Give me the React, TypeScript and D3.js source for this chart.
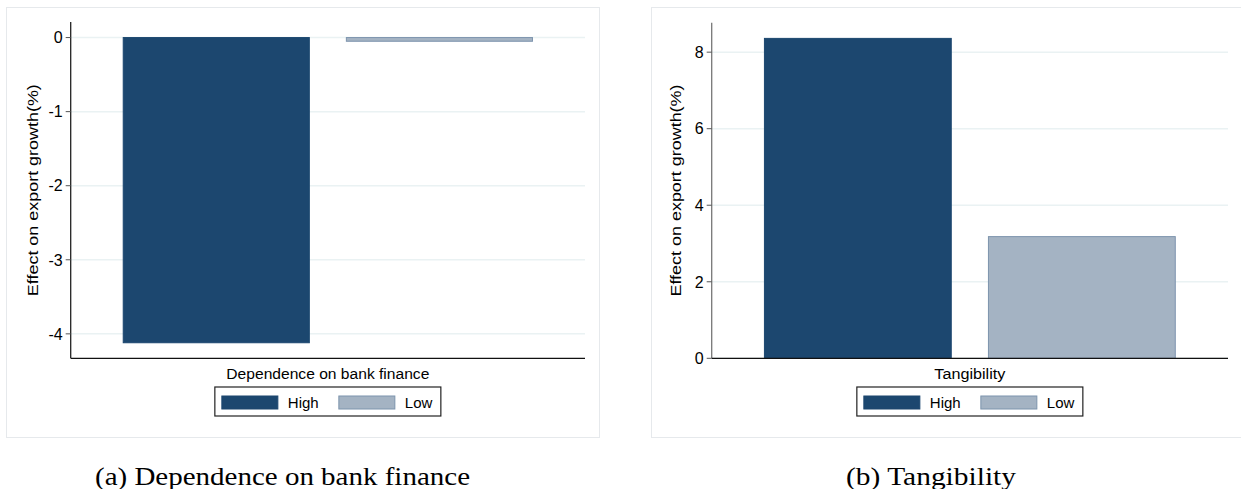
import React from "react";
import * as d3 from "d3";

const groups = ["High", "Low"];
const bankValues = [-4.12, -0.05];
const tangValues = [8.36, 3.18];
const bankTicks = [0, -1, -2, -3, -4];
const tangTicks = [0, 2, 4, 6, 8];
const captions = ["(a) Dependence on bank finance", "(b) Tangibility"];
const xTitles = ["Dependence on bank finance", "Tangibility"];
const yTitle = "Effect on export growth(%)";

const colors: Record<string, string> = { High: "#1c476f", Low: "#a4b3c3" };
const strokes: Record<string, string> = { High: "#1c476f", Low: "#7d94ad" };

type PanelProps = {
  frameX: number;
  plotLeft: number;
  plotRight: number;
  plotTop: number;
  plotBottom: number;
  domain: [number, number];
  values: number[];
  ticks: number[];
  xTitle: string;
  xTitleLen: number;
  yTitleX: number;
  yAxisColor: string;
};

function Panel(p: PanelProps) {
  const y = d3.scaleLinear().domain(p.domain).range([p.plotBottom, p.plotTop]);
  const x = d3
    .scaleBand<string>()
    .domain(groups)
    .range([p.plotLeft, p.plotRight])
    .paddingInner(0.166)
    .paddingOuter(0.2354);
  const font = "Arial, 'Liberation Sans', sans-serif";
  const cx = (p.plotLeft + p.plotRight) / 2;
  const legW = 226;
  const legX = cx - legW / 2;
  const legY = 387;
  return (
    <g>
      <rect x={p.frameX} y={7.5} width={593} height={430} fill="#fff" stroke="#e6e9ec" strokeWidth={1} />
      {p.ticks.map((t) => (
        <line key={"g" + t} x1={p.plotLeft} x2={p.plotRight} y1={y(t)} y2={y(t)} stroke="#eaf2f3" strokeWidth={1.5} />
      ))}
      {groups.map((g, i) => {
        const v = p.values[i];
        const y0 = y(0);
        const y1 = y(v);
        return (
          <rect
            key={g}
            x={x(g)!}
            width={x.bandwidth()}
            y={Math.min(y0, y1)}
            height={Math.abs(y1 - y0)}
            fill={colors[g]}
            stroke={strokes[g]}
            strokeWidth={1}
          />
        );
      })}
      <line x1={p.plotLeft} x2={p.plotLeft} y1={p.plotTop} y2={p.plotBottom} stroke={p.yAxisColor} strokeWidth={1.3} />
      <line x1={p.plotLeft} x2={p.plotRight} y1={p.plotBottom} y2={p.plotBottom} stroke="#111" strokeWidth={1.3} />
      {p.ticks.map((t) => (
        <g key={"t" + t}>
          <line x1={p.plotLeft - 5} x2={p.plotLeft} y1={y(t)} y2={y(t)} stroke="#555" strokeWidth={1} />
          <text x={p.plotLeft - 8} y={y(t)} dy="0.36em" textAnchor="end" fontFamily={font} fontSize={16} fill="#000">
            {t < 0 ? "-" + Math.abs(t) : String(t)}
          </text>
        </g>
      ))}
      <text
        transform={`translate(${p.yTitleX},${(p.plotTop + p.plotBottom) / 2}) rotate(-90)`}
        textAnchor="middle"
        dy="0.35em"
        fontFamily={font}
        fontSize={15.5}
        fill="#000"
        textLength={212}
        lengthAdjust="spacingAndGlyphs"
      >
        {yTitle}
      </text>
      <text
        x={cx}
        y={373}
        dy="0.36em"
        textAnchor="middle"
        fontFamily={font}
        fontSize={15.5}
        fill="#000"
        textLength={p.xTitleLen}
        lengthAdjust="spacingAndGlyphs"
      >
        {p.xTitle}
      </text>
      <rect x={legX} y={legY} width={legW} height={29} fill="#fff" stroke="#222" strokeWidth={1.2} />
      {groups.map((g, i) => {
        const sx = legX + 7 + i * 117;
        return (
          <g key={"l" + g}>
            <rect x={sx} y={legY + 9} width={56} height={13} fill={colors[g]} stroke={strokes[g]} strokeWidth={1} />
            <text x={sx + 66} y={legY + 16} dy="0.36em" fontFamily={font} fontSize={15} fill="#000">
              {g}
            </text>
          </g>
        );
      })}
    </g>
  );
}

export default function App() {
  const serif = "'Liberation Serif', 'DejaVu Serif', serif";
  return (
    <svg
      width={1241}
      height={489}
      style={{ position: "absolute", left: 0, top: 0, background: "#fff" }}
    >
      <rect width={1241} height={489} fill="#fff" />
      <Panel
        frameX={6.5}
        plotLeft={70.7}
        plotRight={585}
        plotTop={22}
        plotBottom={358.3}
        domain={[-4.33, 0.21]}
        values={bankValues}
        ticks={bankTicks}
        xTitle={xTitles[0]}
        xTitleLen={203}
        yTitleX={33}
        yAxisColor="#222"
      />
      <Panel
        frameX={651.5}
        plotLeft={711.7}
        plotRight={1228}
        plotTop={22.7}
        plotBottom={358.3}
        domain={[0, 8.77]}
        values={tangValues}
        ticks={tangTicks}
        xTitle={xTitles[1]}
        xTitleLen={71}
        yTitleX={676}
        yAxisColor="#777"
      />
      <text
        x={282.5}
        y={476}
        dy="0.35em"
        textAnchor="middle"
        fontFamily={serif}
        fontSize={25}
        fill="#000"
        textLength={375}
        lengthAdjust="spacingAndGlyphs"
      >
        {captions[0]}
      </text>
      <text
        x={931}
        y={476}
        dy="0.35em"
        textAnchor="middle"
        fontFamily={serif}
        fontSize={25}
        fill="#000"
        textLength={170}
        lengthAdjust="spacingAndGlyphs"
      >
        {captions[1]}
      </text>
    </svg>
  );
}
